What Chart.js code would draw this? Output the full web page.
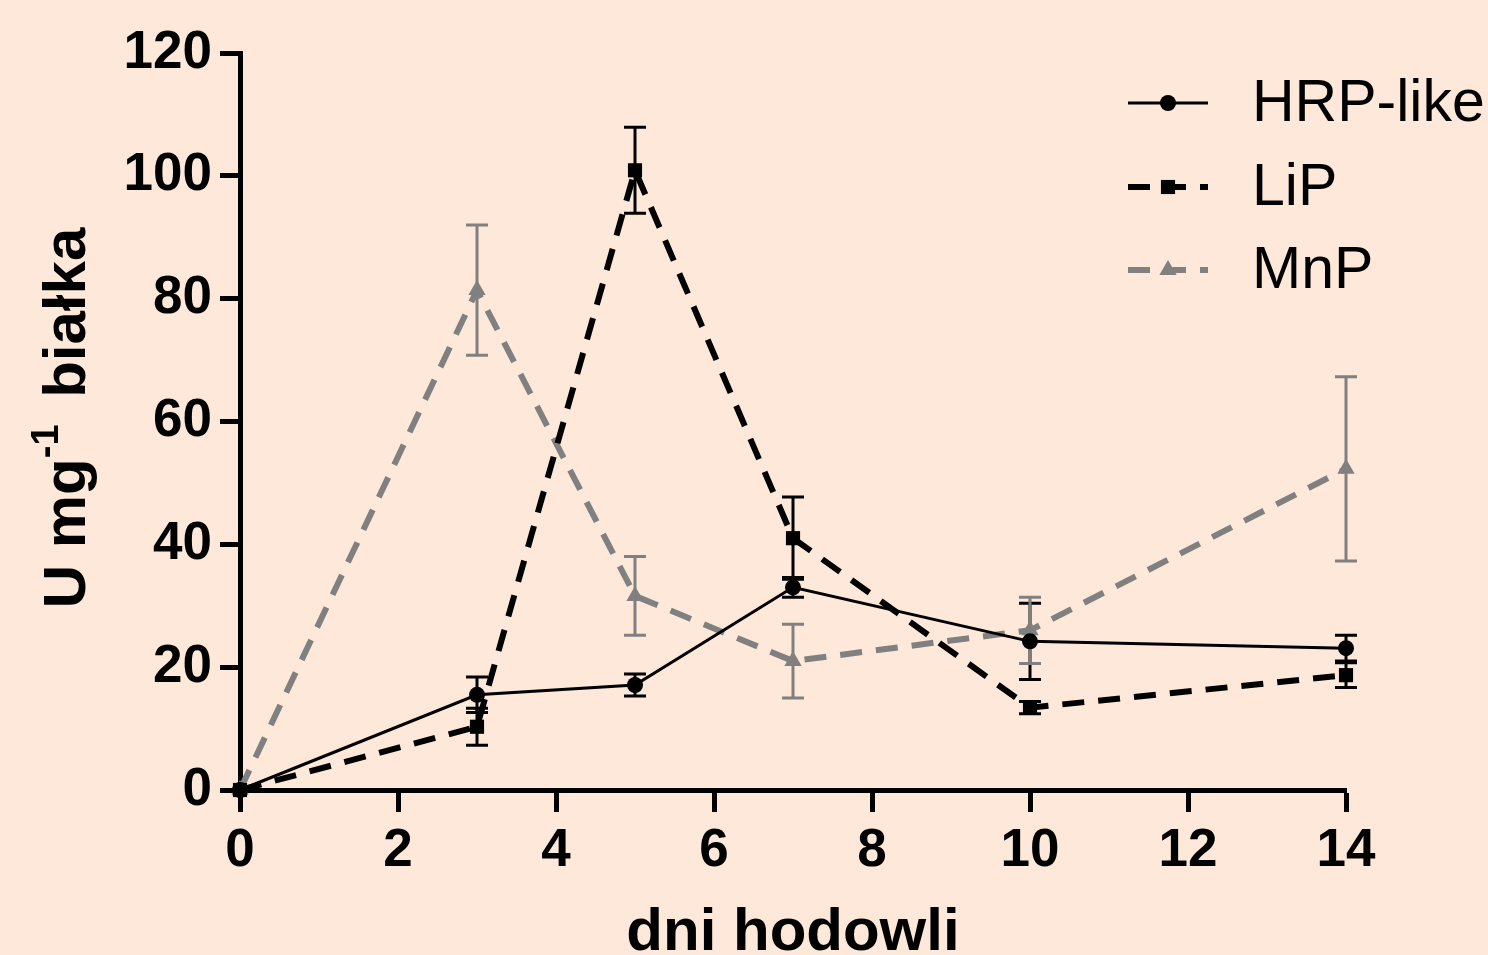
<!DOCTYPE html>
<html>
<head>
<meta charset="utf-8">
<script src="https://cdn.jsdelivr.net/npm/chart.js@4.4.1/dist/chart.umd.min.js"></script>
<style>
  html, body { margin: 0; padding: 0; background: #fde8d9; }
  #wrap { width: 1488px; height: 955px; }
</style>
</head>
<body>
<div id="wrap"><canvas id="chart" width="1488" height="955"></canvas></div>
<script>
// days of culture
const days = [0, 3, 5, 7, 10, 14];
const xTicks = [0, 2, 4, 6, 8, 10, 12, 14];
const yTicks = [0, 20, 40, 60, 80, 100, 120];

const hrp = [0, 15.5, 17.1, 33, 24.2, 23.1];
const hrpErr = [0, 2.9, 1.8, 1.6, 6.2, 2.1];
const lip = [0, 10.3, 100.9, 41, 13.4, 18.7];
const lipErr = [0, 3, 7, 6.7, 1, 2];
const mnp = [0, 81.4, 31.6, 21, 26, 52.3];
const mnpErr = [0, 10.6, 6.4, 6, 5.4, 15];

const GREY = "#808080";
const FONT = "'Liberation Sans', Arial, sans-serif";

function pts(vals) {
  return days.map((d, i) => ({ x: d, y: vals[i] }));
}

// error bars drawn through the chart's own scales
const errorBars = {
  id: "errorBars",
  beforeDatasetsDraw(chart) {
    const ctx = chart.ctx;
    const xs = chart.scales.x, ys = chart.scales.y;
    chart.data.datasets.forEach((ds) => {
      ctx.save();
      ctx.strokeStyle = ds.borderColor;
      ctx.lineWidth = 3;
      ds.data.forEach((p, i) => {
        const e = ds.errors[i];
        if (!e) return;
        const px = xs.getPixelForValue(p.x);
        const top = ys.getPixelForValue(p.y + e);
        const bot = ys.getPixelForValue(p.y - e);
        ctx.beginPath();
        ctx.moveTo(px, top); ctx.lineTo(px, bot);
        ctx.moveTo(px - 11, top); ctx.lineTo(px + 11, top);
        ctx.moveTo(px - 11, bot); ctx.lineTo(px + 11, bot);
        ctx.stroke();
      });
      ctx.restore();
    });
  }
};

// y title with superscript and custom legend
const extras = {
  id: "extras",
  afterDraw(chart) {
    const ctx = chart.ctx;
    ctx.save();
    ctx.fillStyle = "#000";
    ctx.translate(85, 418);
    ctx.rotate(-Math.PI / 2);
    const big = "bold 60px " + FONT;
    const small = "bold 38px " + FONT;
    // [text, font, baseline shift, extra gap after]
    const parts = [["U mg", big, 0, 0], ["-1", small, -27, 10], [" białka", big, 0, 0]];
    let w = 0;
    parts.forEach((p) => { ctx.font = p[1]; w += ctx.measureText(p[0]).width + p[3]; });
    let x = -w / 2;
    ctx.textBaseline = "alphabetic";
    parts.forEach((p) => {
      ctx.font = p[1];
      ctx.fillText(p[0], x, p[2]);
      x += ctx.measureText(p[0]).width + p[3];
    });
    ctx.restore();

    // legend
    const rows = [
      { label: "HRP-like", y: 103, ds: chart.data.datasets[0] },
      { label: "LiP", y: 187, ds: chart.data.datasets[1] },
      { label: "MnP", y: 270, ds: chart.data.datasets[2] }
    ];
    rows.forEach((r) => {
      const ds = r.ds;
      ctx.save();
      ctx.strokeStyle = ds.borderColor;
      ctx.fillStyle = ds.borderColor;
      ctx.lineWidth = ds.borderWidth;
      ctx.setLineDash(ds.borderDash || []);
      ctx.beginPath();
      ctx.moveTo(1128, r.y); ctx.lineTo(1208, r.y);
      ctx.stroke();
      ctx.setLineDash([]);
      Chart.helpers.drawPoint(ctx, {
        pointStyle: ds.pointStyle, radius: ds.pointRadius, borderWidth: 0
      }, 1168, r.y);
      ctx.fillStyle = "#000";
      ctx.font = "59px " + FONT;
      ctx.textBaseline = "middle";
      ctx.fillText(r.label, 1252, r.y + 2);
      ctx.restore();
    });
  }
};

const tickFont = { family: FONT, size: 53, weight: "bold" };

new Chart(document.getElementById("chart"), {
  type: "scatter",
  data: {
    datasets: [
      {
        label: "HRP-like", data: pts(hrp), errors: hrpErr, showLine: true,
        borderColor: "#000", backgroundColor: "#000", borderWidth: 3,
        pointStyle: "circle", pointRadius: 8, pointBorderWidth: 0
      },
      {
        label: "LiP", data: pts(lip), errors: lipErr, showLine: true,
        borderColor: "#000", backgroundColor: "#000", borderWidth: 6,
        borderDash: [22, 14], pointStyle: "rect", pointRadius: 10, pointBorderWidth: 0
      },
      {
        label: "MnP", data: pts(mnp), errors: mnpErr, showLine: true,
        borderColor: GREY, backgroundColor: GREY, borderWidth: 6,
        borderDash: [22, 14], pointStyle: "triangle", pointRadius: 10, pointBorderWidth: 0
      }
    ]
  },
  options: {
    responsive: false,
    animation: false,
    clip: false,
    layout: { padding: { top: 53, right: 142, left: 0, bottom: 0 } },
    plugins: { legend: { display: false }, tooltip: { enabled: false } },
    scales: {
      x: {
        type: "linear", min: 0, max: 14,
        afterFit(s) { s.height = 165; },
        afterBuildTicks(s) { s.ticks = xTicks.map((v) => ({ value: v })); },
        grid: { drawOnChartArea: false, drawTicks: true, tickLength: 22, tickWidth: 5, tickColor: "#000" },
        border: { display: true, width: 5, color: "#000" },
        ticks: { color: "#000", font: tickFont, padding: 8, maxRotation: 0 },
        title: {
          display: true, text: "dni hodowli", color: "#000",
          font: { family: FONT, size: 60, weight: "bold" },
          padding: { top: 0, bottom: -14 }
        }
      },
      y: {
        min: 0, max: 120,
        afterFit(s) { s.width = 240; },
        afterBuildTicks(s) { s.ticks = yTicks.map((v) => ({ value: v })); },
        grid: { drawOnChartArea: false, drawTicks: true, tickLength: 20, tickWidth: 5, tickColor: "#000" },
        border: { display: true, width: 5, color: "#000" },
        ticks: { color: "#000", font: tickFont, padding: 8 }
      }
    }
  },
  plugins: [errorBars, extras]
});
</script>
</body>
</html>
